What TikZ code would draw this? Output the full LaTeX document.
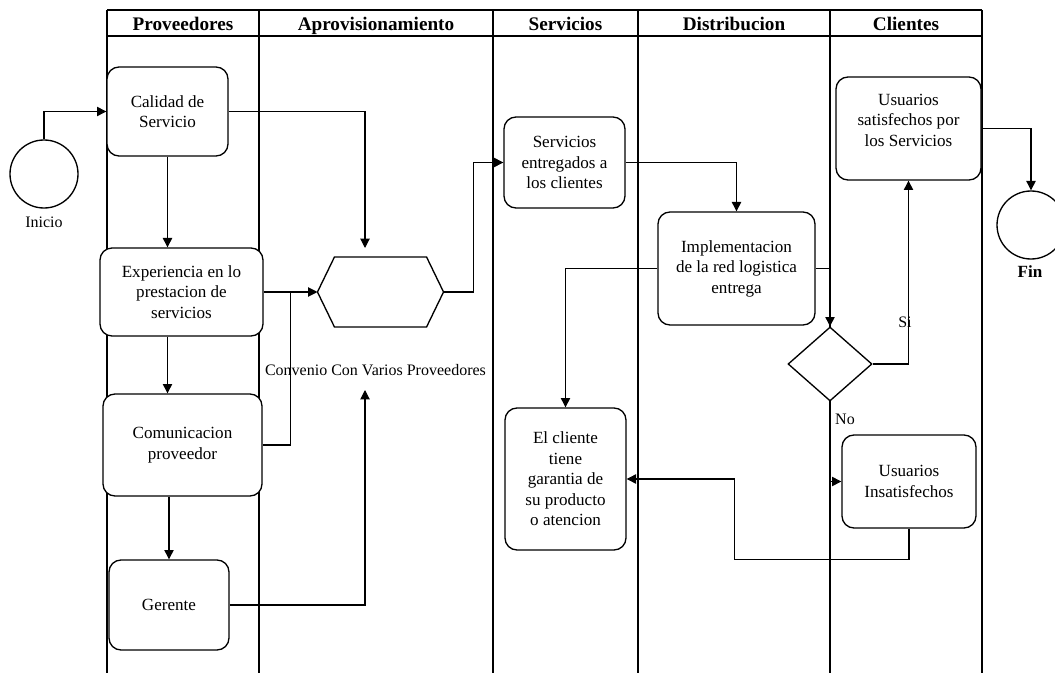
\documentclass[tikz,border=0pt]{standalone}
\usepackage{fontspec}
\setmainfont{LiberationSerif}[Extension=.ttf,UprightFont=*-Regular,BoldFont=*-Bold,ItalicFont=*-Italic,BoldItalicFont=*-BoldItalic]
\usetikzlibrary{arrows.meta,shapes.geometric,calc}
\tikzset{
  box/.style={draw,fill=white,line width=1pt,rounded corners=9pt,inner sep=2pt,align=center,
    font=\fontsize{12.8}{15.4}\selectfont},
  txt/.style={align=center,inner sep=0pt,font=\fontsize{12.8}{15.4}\selectfont},
  endpoint/.style={draw,circle,fill=white,line width=1pt,minimum size=51pt,inner sep=0pt},
  lane/.style={line width=0.9pt},
  head/.style={anchor=base,font=\fontsize{14.4}{17}\selectfont\bfseries},
  flow/.style={-{Triangle[length=7pt,width=7pt]}},
  lbl/.style={font=\fontsize{12}{14}\selectfont,inner sep=1pt}
}
\begin{document}
\begin{tikzpicture}[x=0.75pt,y=-0.75pt,line width=0.8pt]

\useasboundingbox (0,0) rectangle (1055,673);

% swimlanes
\draw[lane] (107,10) -- (982,10) (107,36) -- (982,36);
\foreach \x in {107,259,493,638,830,982} \draw[lane] (\x,10) -- (\x,673);
\node[head] (h1) at (183,31) {Proveedores};
\node[head] (h2) at (376,31) {Aprovisionamiento};
\node[head] (h3) at (565.5,31) {Servicios};
\node[head] (h4) at (734,31) {Distribucion};
\node[head] (h5) at (906,31) {Clientes};

% start and end events
\node[endpoint] (inicio) at (44,174) {};
\node[lbl] (inicioL) at (44,222) {Inicio};
\node[endpoint] (fin) at (1031,225) {};
\node[lbl,font=\fontsize{12.8}{15}\selectfont\bfseries] (finL) at (1030,272) {Fin};

% Proveedores
\node[box,minimum width=90.75pt,minimum height=66.75pt] (calidad) at (167.5,111.5) {Calidad de\\Servicio};
\node[box,minimum width=122.25pt,minimum height=66pt] (exper) at (181.5,292) {Experiencia en lo\\prestacion de\\servicios};
\node[box,minimum width=119.25pt,minimum height=76.5pt] (comun) at (182.5,445) {Comunicacion\\proveedor};
\node[box,minimum width=90pt,minimum height=67.5pt] (gerente) at (169,605) {Gerente};

% Aprovisionamiento
\node[minimum width=93.75pt,minimum height=51.75pt,inner sep=0pt] (hex) at (380.5,292) {};
\draw[line width=1pt,fill=white] (hex.west) -- ($(hex.north west)+(17,0)$) -- ($(hex.north east)+(-17,0)$)
  -- (hex.east) -- ($(hex.south east)+(-17,0)$) -- ($(hex.south west)+(17,0)$) -- cycle;
\node[lbl] (conv) at (375.5,370) {Convenio Con Varios Proveedores};
\coordinate (hexin) at (365,248);
\coordinate (convin) at (365,390);

% Servicios
\node[box,minimum width=90.75pt,minimum height=68.25pt] (servicios) at (564.5,162.5) {Servicios\\entregados a\\los clientes};
\node[box,minimum width=90.75pt,minimum height=106.5pt] (cliente) at (565.5,479) {El cliente\\tiene\\garantia de\\su producto\\o atencion};

% Distribucion
\node[box,minimum width=117.75pt,minimum height=84.75pt] (impl) at (736.5,268.5) {Implementacion\\de la red logistica\\entrega};
\node[draw,diamond,fill=white,line width=1pt,inner sep=0pt,minimum width=63pt,minimum height=55.5pt] (dec) at (830,364) {};

% Clientes
\node[box,minimum width=108.75pt,minimum height=77.25pt] (satisf) at (908.5,128.5) {};
\node[txt] (satisfT) at (908.5,120) {Usuarios\\satisfechos por\\los Servicios};
\node[box,minimum width=100.5pt,minimum height=69.75pt] (insat) at (909,481.5) {Usuarios\\Insatisfechos};

% connectors
\draw[flow] (inicio.north) |- (calidad.west);
\draw[flow] (calidad.south) -- (calidad.south |- exper.north);
\draw[flow] (calidad.east) -| (hexin);
\draw[flow] (exper.east) -- (hex.west);
\draw (comun.east) -| ($(exper.east)!0.5!(hex.west)$);
\draw[flow] (calidad.south |- exper.south) -- (calidad.south |- comun.north);
\draw[flow] (gerente.north |- comun.south) -- (gerente.north);
\draw[flow] (gerente.east) -| (convin);
\draw[flow] (hex.east) -- ++(30,0) |- (servicios.west);
\draw[flow] (servicios.east) -| (impl.north);
\draw[flow] (impl.west) -| (cliente.north);
\draw[flow] (impl.east) -| (dec.north);
\draw[flow] (dec.east) -| (satisf.south);
\draw[flow] (dec.south) |- (insat.west);
\draw[flow] (insat.south) -- ++(0,31) -| ($(cliente.east)+(108,0)$) -- (cliente.east);
\draw[flow] (satisf.east) -| (fin.north);

\node[lbl] (si) at (905,322) {Si};
\node[lbl] (no) at (845,419) {No};
\end{tikzpicture}
\end{document}
